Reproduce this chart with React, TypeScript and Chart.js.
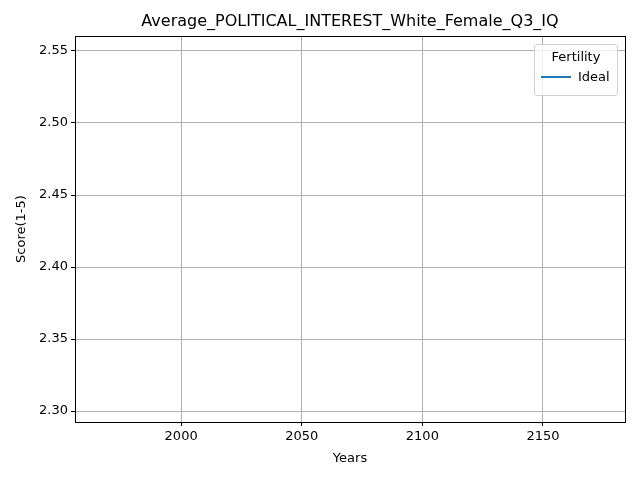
import React, { useEffect, useRef } from "react";
import { Chart, registerables } from "chart.js";

Chart.register(...registerables);

// The reference shows an empty "Ideal" series (no visible points)
const years: number[] = [];
const idealScores: number[] = [];
const xTicks = [2000, 2050, 2100, 2150];
const yTicks = [2.3, 2.35, 2.4, 2.45, 2.5, 2.55];

const frame = {
  id: "frame",
  afterDraw(chart: Chart) {
    const { ctx, chartArea: a } = chart;
    ctx.save();
    ctx.strokeStyle = "#000";
    ctx.lineWidth = 1;
    ctx.strokeRect(a.left + 0.5, a.top + 0.5, a.right - a.left, a.bottom - a.top);
    ctx.restore();
  },
};

const App: React.FC = () => {
  const ref = useRef<HTMLCanvasElement>(null);

  useEffect(() => {
    document.body.style.margin = "0";
    if (!ref.current) return;
    const font = { family: "DejaVu Sans", size: 13 };
    const chart = new Chart(ref.current, {
      type: "line",
      data: {
        datasets: [
          {
            label: "Ideal",
            data: years.map((y, i) => ({ x: y, y: idealScores[i] })),
            borderColor: "#1f77b4",
            borderWidth: 1.5,
            pointRadius: 0,
          },
        ],
      },
      options: {
        animation: false,
        responsive: false,
        layout: { padding: { left: 0, right: 15, top: 36, bottom: 0 } },
        plugins: {
          legend: { display: false },
          title: { display: false },
          tooltip: { enabled: false },
        },
        scales: {
          x: {
            type: "linear",
            min: 1956,
            max: 2184,
            afterBuildTicks: (s: any) => {
              s.ticks = xTicks.map((v) => ({ value: v }));
            },
            afterFit: (s: any) => {
              s.height = 58;
            },
            ticks: { color: "#000", font, maxRotation: 0, callback: (v: any) => String(v) },
            grid: { color: "#b0b0b0", drawTicks: true, tickColor: "#000", tickLength: 4 },
            border: { display: false },
            title: { display: true, text: "Years", color: "#000", font, padding: { top: 2, bottom: 14 } },
          },
          y: {
            type: "linear",
            min: 2.2924,
            max: 2.5604,
            afterBuildTicks: (s: any) => {
              s.ticks = yTicks.map((v) => ({ value: v }));
            },
            afterFit: (s: any) => {
              s.width = 75;
            },
            ticks: { color: "#000", font, callback: (v: any) => Number(v).toFixed(2) },
            grid: { color: "#b0b0b0", tickColor: "#000", tickLength: 4 },
            border: { display: false },
            title: { display: true, text: "Score(1-5)", color: "#000", font, padding: { top: 14, bottom: 2 } },
          },
        },
      },
      plugins: [frame],
    });
    return () => chart.destroy();
  }, []);

  return (
    <div style={{ position: "relative", width: 640, height: 480 }}>
      <canvas ref={ref} width={640} height={480}></canvas>
      <div
        style={{
          position: "absolute",
          left: 75,
          width: 550,
          top: 11,
          textAlign: "center",
          fontFamily: "DejaVu Sans",
          fontSize: 16,
          color: "#000",
        }}
      >
        Average_POLITICAL_INTEREST_White_Female_Q3_IQ
      </div>
      <div
        style={{
          position: "absolute",
          left: 534,
          top: 44,
          width: 82,
          height: 50,
          background: "rgba(255,255,255,0.8)",
          border: "1px solid #d0d0d0",
          borderRadius: 3,
          fontFamily: "DejaVu Sans",
          fontSize: 13,
          color: "#000",
        }}
      >
        <div style={{ textAlign: "center", marginTop: 4 }}>Fertility</div>
        <div style={{ display: "flex", alignItems: "center", marginTop: 5, marginLeft: 6 }}>
          <span style={{ display: "inline-block", width: 30, height: 2, background: "#1f77b4", marginRight: 7 }}></span>
          <span>Ideal</span>
        </div>
      </div>
    </div>
  );
};

export default App;
